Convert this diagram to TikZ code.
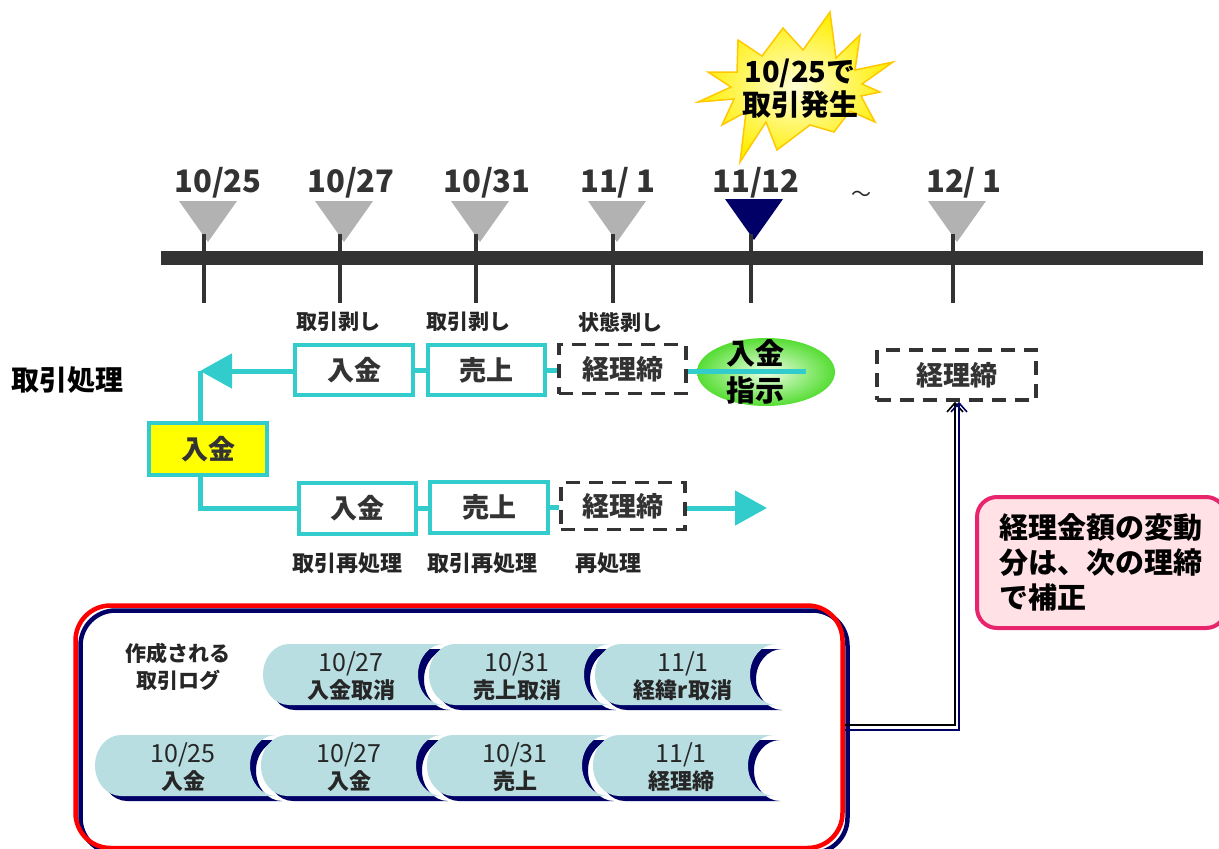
\documentclass[tikz,border=0pt]{standalone}
\usepackage{fontspec}
\setmainfont{Noto Sans CJK JP}
\usetikzlibrary{arrows.meta,shapes.geometric}
\definecolor{cteal}{HTML}{33CCCC}
\definecolor{cdark}{HTML}{333333}
\definecolor{ctxt}{HTML}{262626}
\definecolor{cgray}{HTML}{B2B2B2}
\definecolor{cnavy}{HTML}{000066}
\definecolor{cpill}{HTML}{B8DEE2}
\definecolor{cred}{HTML}{FF0000}
\definecolor{cpinkfill}{HTML}{FFE1E6}
\definecolor{cpinkline}{HTML}{E8246C}
\definecolor{cburstin}{HTML}{FFFFD8}
\definecolor{cburstout}{HTML}{FFEE00}
\definecolor{cburstline}{HTML}{FFC800}
\definecolor{cgreenin}{HTML}{EEFFE6}
\definecolor{cgreenout}{HTML}{55DD33}
\definecolor{cyel}{HTML}{FFFF00}
\newcommand\fsz[2]{\fontsize{#1}{#2}\selectfont}
\newcommand\logpill[4]{%
\begin{scope}[shift={(#2,#3)}]
\fill[cnavy] (32,5) -- (187,5) .. controls (172.6,5) and (161,18.66) .. (161,35.5) .. controls (161,52.34) and (172.6,66) .. (187,66) -- (32,66) .. controls (17.64,66) and (6,52.34) .. (6,35.5) .. controls (6,18.66) and (17.64,5) .. (32,5) -- cycle;
\fill[cpill] (26,0) -- (181,0) .. controls (166.6,0) and (155,13.66) .. (155,30.5) .. controls (155,47.34) and (166.6,61) .. (181,61) -- (26,61) .. controls (11.64,61) and (0,47.34) .. (0,30.5) .. controls (0,13.66) and (11.64,0) .. (26,0) -- cycle;
\node[pilltext] (#1) at (88,32) {#4};
\end{scope}}
\begin{document}
\begin{tikzpicture}[x=1pt,y=-1pt,
 datelbl/.style={font=\bfseries\fsz{31}{34}, text=cdark, inner sep=0pt},
 smalllbl/.style={font=\bfseries\fsz{21}{24}, text=ctxt, inner sep=0pt},
 redolbl/.style={font=\bfseries\fsz{22}{24}, text=ctxt, inner sep=0pt},
 procbox/.style={draw=cteal, line width=4pt, fill=white, font=\bfseries\fsz{27}{30}, text=cdark, inner sep=0pt, minimum height=50pt},
 dashbox/.style={draw=cdark, line width=3.5pt, dash pattern=on 14pt off 9pt, fill=white, font=\bfseries\fsz{27}{30}, text=cdark, inner sep=0pt, minimum height=50pt},
 tealline/.style={draw=cteal, line width=5pt},
 tealarrow/.style={tealline, -{Triangle[length=32pt,width=34pt]}},
 pilltext/.style={font=\bfseries\fsz{22}{27}, text=ctxt, align=center, inner sep=0pt},
 tickline/.style={draw=cdark, line width=4pt},
]
\useasboundingbox (0,0) rectangle (1219,849);

% burst
\shadedraw[draw=cburstline, line width=1.5pt, inner color=cburstin, outer color=cburstout]
 (738,40) -- (762,56) -- (783,28) -- (803,50) -- (830,12) -- (836,58) -- (860,35) -- (855,70) -- (893,62) -- (862,84) -- (880,92) -- (861,96) -- (875,122) -- (850,111) -- (834,132) -- (810,125) -- (777,150) -- (766,122) -- (740,162) -- (746,112) -- (722,125) -- (734,99) -- (698,102) -- (731,87) -- (708,72) -- (737,72) -- cycle;
\node[font=\bfseries\fsz{29}{33}, align=center, text=black, inner sep=0pt] (burst) at (800,89) {10/25で\\取引発生};

% timeline
\foreach \tx in {204,340,476,613,953}
  \fill[cgray] ({\tx-25},201) -- ({\tx+33},201) -- ({\tx+4},242) -- cycle;
\fill[cnavy] (725,199) -- (783,199) -- (754,240) -- cycle;
\draw[cdark, line width=14pt] (161,258) -- (1203,258);
\foreach \tx in {204,340,476,613,751,953}
  \draw[tickline] (\tx,234) -- (\tx,303);

\node[datelbl] (d1) at (218,183) {10/25};
\node[datelbl] (d2) at (351,183) {10/27};
\node[datelbl] (d3) at (487,183) {10/31};
\node[datelbl] (d4) at (618,183) {11/ 1};
\node[datelbl] (d5) at (756,183) {11/12};
\node[datelbl] (d6) at (964,183) {12/ 1};
\node[font=\fsz{20}{22}, text=ctxt, inner sep=0pt] (tl) at (861,196) {～};

\node[smalllbl] (s1) at (338,322) {取引剥し};
\node[smalllbl] (s2) at (468,322) {取引剥し};
\node[smalllbl] (s3) at (620,322) {状態剥し};

\node[font=\bfseries\fsz{28}{30}, text=black, inner sep=0pt] (title) at (68,380) {取引処理};

% green ellipse
\node[ellipse, minimum width=138pt, minimum height=68pt, inner sep=0pt, shading=radial, inner color=cgreenin, outer color=cgreenout] (sj) at (766,372) {};

% process boxes
\node[procbox, minimum width=118pt] (ue) at (354,370) {入金};
\node[procbox, minimum width=117pt] (us) at (486.5,370) {売上};
\node[dashbox, minimum width=127pt, minimum height=49pt] (uk) at (622.5,369) {経理締};
\node[procbox, fill=cyel, minimum width=118pt, minimum height=52pt] (yb) at (208,449) {入金};
\node[procbox, minimum width=117pt, minimum height=51pt] (le) at (357.5,508) {入金};
\node[procbox, minimum width=118pt, minimum height=51pt] (ls) at (489,507) {売上};
\node[dashbox, minimum width=124pt, minimum height=47pt] (lk) at (623,506) {経理締};
\node[dashbox, minimum width=159pt, minimum height=50pt] (rk) at (956.5,375) {経理締};

\coordinate (c1) at (200,371);
\coordinate (lend) at (806,371);
\coordinate (arrend) at (767,508);
\draw[tealline] (c1) -- (c1 |- yb.north);
\draw[tealarrow] (ue.west |- c1) -- (c1);
\draw[tealline] (yb.south -| c1) |- (le.west);
\draw[tealline] (ue.east) -- (ue.east -| us.west);
\draw[tealline] (us.east) -- (us.east -| uk.west);
\draw[tealline] (uk.east |- c1) -- (lend);
\draw[tealline] (le.east) -- (le.east -| ls.west);
\draw[tealline] (ls.east) -- (ls.east -| lk.west);
\draw[tealarrow] (lk.east |- arrend) -- (arrend);
\node[font=\bfseries\fsz{29}{37}, align=center, text=black, inner sep=0pt] (sjt) at (755,372) {入金\\指示};

\node[redolbl] (r1) at (347,563) {取引再処理};
\node[redolbl] (r2) at (482,563) {取引再処理};
\node[redolbl] (r3) at (608,563) {再処理};

% note
\node[draw=cpinkline, fill=cpinkfill, line width=4pt, rounded corners=20pt, minimum width=249pt, minimum height=131pt, text width=204pt, inner xsep=20pt, align=left, anchor=west, font=\bfseries\fsz{29}{35}, text=black] (note) at (975,562.5) {経理金額の変動\\分は、次の理締\\で補正};

% log box
\draw[cnavy, line width=4.5pt, rounded corners=35pt] (80.5,610.5) rectangle (847.5,853);
\node[draw=cred, line width=4.5pt, rounded corners=35pt, minimum width=767pt, minimum height=242.5pt, inner sep=0pt] (logbox) at (459,726.75) {};
\node[font=\bfseries\fsz{21}{27}, align=center, text=ctxt, inner sep=0pt] (logttl) at (178,667) {作成される\\取引ログ};

\logpill{p1}{263}{644}{{\mdseries\fsz{25}{27}10/27}\\入金取消}
\logpill{p2}{429}{644}{{\mdseries\fsz{25}{27}10/31}\\売上取消}
\logpill{p3}{595}{644}{{\mdseries\fsz{25}{27}11/1}\\経緯r取消}
\logpill{q1}{95}{735}{{\mdseries\fsz{25}{27}10/25}\\入金}
\logpill{q2}{261}{735}{{\mdseries\fsz{25}{27}10/27}\\入金}
\logpill{q3}{427}{735}{{\mdseries\fsz{25}{27}10/31}\\売上}
\logpill{q4}{593}{735}{{\mdseries\fsz{25}{27}11/1}\\経理締}

% double connector
\draw[black, line width=1.6pt, -{Straight Barb[length=9pt,width=16pt]}] ([yshift=1.5pt]logbox.east) -| ([xshift=-1.5pt]rk.south);
\draw[cnavy, line width=1.6pt, -{Straight Barb[length=9pt,width=16pt]}] ([yshift=-3pt]logbox.east) -| ([xshift=2.5pt]rk.south);
\end{tikzpicture}
\end{document}
